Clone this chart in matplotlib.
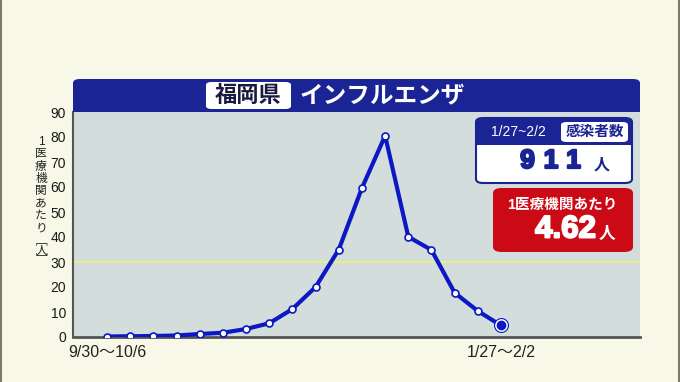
import matplotlib
matplotlib.use("Agg")
import matplotlib.pyplot as plt
import matplotlib.patheffects as pe
from matplotlib.patches import FancyBboxPatch, Rectangle
from matplotlib.lines import Line2D

plt.rcParams['font.family'] = ['Liberation Sans', 'Noto Sans CJK JP']

# data (per-institution cases, weekly)
weeks = list(range(18))
per_inst = [0.2, 0.3, 0.4, 0.6, 1.2, 1.7, 3.2, 5.5, 11.2, 20.0, 35.0, 59.6, 80.5, 40.1, 34.8, 17.7, 10.4, 4.62]
tick_pos = [0, 17]
tick_labels = ["9/30～10/6", "1/27～2/2"]
yticks = list(range(0, 91, 10))
threshold = 30

title_pref = "福岡県"
title_main = "インフルエンザ"
week_label = "1/27~2/2"
cases_label = "感染者数"
cases = "911"
per_label = "1医療機関あたり"
per_value = "4.62"
ylab_chars = ["1", "医", "療", "機", "関", "あ", "た", "り"]
ylab_unit = "﹇\n人\n﹈"

W, H = 680, 382
NAVY = "#1b2494"
BLUE = "#0c18c4"
RED = "#cc0a16"
BG = "#f8f8e8"
PLOT_BG = "#d3dedc"

fig = plt.figure(figsize=(W / 100, H / 100), dpi=100)
fig.patch.set_facecolor(BG)


def fx(x):
    return x / W


def fy(y):
    return 1 - y / H


def box(x0, y0, x1, y1, fc, ec="none", lw=0, r=4, z=1):
    p = FancyBboxPatch((fx(x0), fy(y1)), fx(x1 - x0), (y1 - y0) / H,
                       boxstyle=f"round,pad=0,rounding_size={r / H}",
                       transform=fig.transFigure, fc=fc, ec=ec, lw=lw,
                       zorder=z, mutation_aspect=1)
    fig.patches.append(p)


def heavy(color, w=1.2):
    return [pe.withStroke(linewidth=w, foreground=color)]


# side frame lines
for xx in (0.8, 679.2):
    fig.lines.append(Line2D([fx(xx), fx(xx)], [0, 1], transform=fig.transFigure,
                            color="#7a7a68", lw=1.5))

ax = fig.add_axes([fx(73), fy(337), fx(640 - 73), (337 - 112) / H])
ax.set_facecolor(PLOT_BG)
ax.set_xlim(-1.47, 23.0)
ax.set_ylim(0, 90)

ax.axhline(threshold, color="#eef07a", lw=1.3, zorder=1)
ax.plot(weeks, per_inst, color=BLUE, lw=3, zorder=3)
ax.plot(weeks[:-1], per_inst[:-1], "o", ms=5, mfc="white", mec=BLUE, mew=1.2, zorder=4)
ax.plot(weeks[-1], per_inst[-1], "o", ms=10, mfc="white", mec=BLUE, mew=0.8, zorder=4)
ax.plot(weeks[-1], per_inst[-1], "o", ms=6, mfc=BLUE, mec=BLUE, zorder=5)

for s in ["top", "right"]:
    ax.spines[s].set_visible(False)
ax.spines["left"].set_color("#555555")
ax.spines["bottom"].set_color("#555555")
ax.spines["left"].set_linewidth(1.5)
ax.spines["bottom"].set_linewidth(2)

ax.set_yticks(yticks)
ax.set_yticklabels([str(v) for v in yticks], fontsize=10, color="#1a1a1a")
ax.tick_params(axis="y", length=0, pad=5)
ax.set_xticks(tick_pos)
ax.set_xticklabels(tick_labels, fontsize=11.5, color="#222222")
ax.tick_params(axis="x", length=0, pad=6)

# vertical y-axis label (stacked characters)
for i, ch in enumerate(ylab_chars):
    fig.text(fx(41), fy(142 + i * 12.3), ch, fontsize=8.5, color="#222222",
             ha="center", va="center")
fig.text(fx(41), fy(251), ylab_unit, fontsize=8.5, color="#222222",
         ha="center", va="center", ma="center", linespacing=0.62)

# title bar
box(73, 79, 640, 104, NAVY, r=4, z=2)
fig.patches.append(Rectangle((fx(73), fy(112)), fx(567), 14 / H, transform=fig.transFigure,
                             fc=NAVY, ec="none", zorder=2))
box(206, 82, 291, 109, "white", r=3, z=3)
fig.text(fx(248.5), fy(96), title_pref, fontsize=16, fontweight="bold", color="#1a1a40",
         ha="center", va="center", zorder=4)
fig.text(fx(300), fy(96), title_main, fontsize=17, fontweight="bold", color="white",
         ha="left", va="center", zorder=4)

# cases box
box(476, 118, 632, 183, "white", ec=NAVY, lw=1.5, r=4, z=5)
box(476, 118, 632, 142, NAVY, r=4, z=6)
fig.patches.append(Rectangle((fx(476), fy(145)), fx(156), 8 / H, transform=fig.transFigure,
                             fc=NAVY, ec="none", zorder=6))
fig.text(fx(518), fy(132), week_label, fontsize=10, color="white", ha="center",
         va="center", zorder=7)
box(561, 122, 628, 142, "white", r=3, z=7)
fig.text(fx(594.5), fy(132), cases_label, fontsize=10.5, fontweight="bold", color=NAVY,
         ha="center", va="center", zorder=8)
for ch, cx in zip(cases, (527.5, 551, 573.5)):
    fig.text(fx(cx), fy(161), ch, fontsize=19, fontweight="bold", color=NAVY,
             ha="center", va="center", zorder=8, path_effects=heavy(NAVY, 1.6))
fig.text(fx(602), fy(165), "人", fontsize=11.5, fontweight="bold", color=NAVY,
         ha="center", va="center", zorder=8)

# per-institution box
box(493, 188, 633, 252, RED, r=5, z=5)
fig.text(fx(562), fy(205), per_label, fontsize=10.5, fontweight="bold", color="white",
         ha="center", va="center", zorder=6)
fig.text(fx(596), fy(229.5), per_value, fontsize=22.5, fontweight="bold", color="white",
         ha="right", va="center", zorder=6, path_effects=heavy("white", 1.4))
fig.text(fx(606.5), fy(234), "人", fontsize=12, fontweight="bold", color="white",
         ha="center", va="center", zorder=6)

fig.savefig("out.png", dpi=100, facecolor=BG)
